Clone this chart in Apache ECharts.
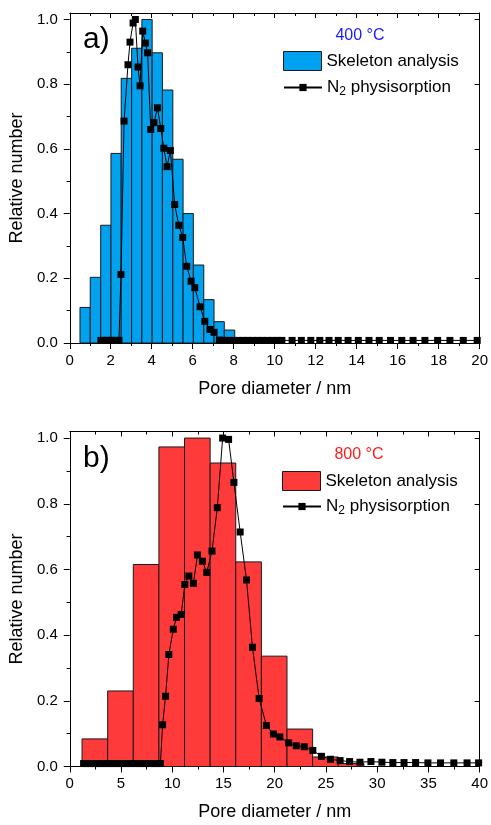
<!DOCTYPE html>
<html>
<head>
<meta charset="utf-8">
<script src="https://cdn.jsdelivr.net/npm/echarts@6/dist/echarts.min.js"></script>
<style>
  html, body { margin: 0; padding: 0; background: #ffffff; }
  #chart { width: 491px; height: 825px; }
</style>
</head>
<body>
<div id="chart"></div>
<script>
// ---- Pore size distributions: skeleton analysis (histogram) vs. N2 physisorption ----

// 400 °C sample: histogram bin edges (nm) and relative counts
const skeletonEdges400 = [0.50, 1.00, 1.51, 2.01, 2.51, 3.02, 3.52, 4.02, 4.52, 5.03, 5.53, 6.03, 6.54, 7.04, 7.54, 8.05];
const skeletonCounts400 = [0.110, 0.203, 0.364, 0.586, 0.818, 0.911, 1.000, 0.897, 0.782, 0.568, 0.400, 0.241, 0.134, 0.066, 0.040];

// 400 °C sample: N2 physisorption pore size distribution
const n2Diameter400 = [
  1.52, 1.63, 1.74, 1.85, 1.96, 2.07, 2.18, 2.29, 2.40,
  2.50, 2.65, 2.84, 2.94, 3.09, 3.20, 3.33, 3.43, 3.56, 3.69, 3.80,
  3.95, 4.11, 4.28, 4.44, 4.59, 4.75, 4.91, 5.12, 5.32, 5.51, 5.71,
  5.92, 6.10, 6.36, 6.59, 6.84, 7.04, 7.30,
  7.55, 7.78, 8.00, 8.22, 8.45, 8.68, 8.92, 9.16, 9.40, 9.65, 9.90,
  10.12, 10.35, 10.85, 11.30, 11.76, 12.20, 12.65, 13.10, 13.58, 14.08,
  14.60, 15.10, 15.65, 16.20, 16.75, 17.33, 17.95, 18.55, 19.20, 19.88
];
const n2Number400 = [
  0.008, 0.008, 0.008, 0.008, 0.008, 0.008, 0.008, 0.008, 0.008,
  0.212, 0.686, 0.860, 0.930, 0.989, 1.000, 0.853, 0.795, 0.964, 0.927, 0.897,
  0.660, 0.681, 0.727, 0.663, 0.602, 0.545, 0.595, 0.428, 0.364, 0.326, 0.237,
  0.191, 0.171, 0.112, 0.067, 0.042, 0.033, 0.009,
  0.008, 0.008, 0.008, 0.008, 0.008, 0.008, 0.008, 0.008, 0.008, 0.008, 0.008,
  0.008, 0.008, 0.008, 0.008, 0.008, 0.008, 0.008, 0.008, 0.008, 0.008,
  0.008, 0.008, 0.008, 0.008, 0.008, 0.008, 0.008, 0.008, 0.008, 0.008
];

// 800 °C sample: histogram bin edges (nm) and relative counts
const skeletonEdges800 = [1.2, 3.7, 6.2, 8.7, 11.2, 13.7, 16.2, 18.7, 21.2, 23.7, 26.2, 28.7];
const skeletonCounts800 = [0.084, 0.230, 0.615, 0.973, 1.000, 0.924, 0.623, 0.336, 0.114, 0.029, 0.009];

// 800 °C sample: N2 physisorption pore size distribution
const n2Diameter800 = [
  1.35, 1.60, 1.85, 2.10, 2.40, 2.70, 3.00, 3.30, 3.60, 3.95, 4.30, 4.65,
  5.00, 5.35, 5.70, 6.05, 6.40, 6.75, 7.10, 7.45, 7.80, 8.15, 8.50, 8.85,
  9.06, 9.35, 9.67, 10.10, 10.42, 10.87, 11.23, 11.62, 12.07, 12.46, 12.94,
  13.37, 13.88, 14.40, 14.92, 15.50, 16.02, 16.63, 17.25, 17.83, 18.48,
  19.19, 19.87, 20.50, 21.36, 22.10, 22.88, 23.72, 24.56, 25.44, 26.38,
  27.31, 28.32, 29.39, 30.46, 31.53, 32.62, 33.75, 34.95, 36.18, 37.48, 38.77, 39.90
];
const n2Number800 = [
  0.009, 0.009, 0.009, 0.009, 0.009, 0.009, 0.009, 0.009, 0.009, 0.009, 0.009, 0.009,
  0.009, 0.009, 0.009, 0.009, 0.009, 0.009, 0.009, 0.009, 0.009, 0.009, 0.009, 0.009,
  0.127, 0.214, 0.341, 0.418, 0.454, 0.463, 0.554, 0.580, 0.558, 0.644, 0.625,
  0.591, 0.656, 0.788, 1.000, 0.996, 0.865, 0.714, 0.568, 0.363, 0.207,
  0.125, 0.099, 0.090, 0.072, 0.063, 0.060, 0.049, 0.031, 0.022, 0.018,
  0.015, 0.013, 0.015, 0.013, 0.012, 0.012, 0.012, 0.011, 0.011, 0.011, 0.011, 0.011
];

// Axis tick values
const yMajorTicks = [0, 0.2, 0.4, 0.6, 0.8, 1.0];
const yMinorTicks = [0.1, 0.3, 0.5, 0.7, 0.9];

const FONT = "'Liberation Sans', Arial, Helvetica, sans-serif";
const BLUE = '#00A2F0';
const RED = '#FF3A3A';
const EDGE = '#1a1a1a';

function binData(edges, counts) {
  return counts.map((c, i) => [edges[i], edges[i + 1], c]);
}
function pairs(xs, ys) {
  return xs.map((x, i) => [x, ys[i]]);
}

function histogramRenderer(fill) {
  return function (params, api) {
    const topLeft = api.coord([api.value(0), api.value(2)]);
    const bottomRight = api.coord([api.value(1), 0]);
    return {
      type: 'rect',
      shape: {
        x: topLeft[0],
        y: topLeft[1],
        width: bottomRight[0] - topLeft[0],
        height: bottomRight[1] - topLeft[1]
      },
      style: { fill: fill, stroke: EDGE, lineWidth: 1 }
    };
  };
}

const axisLine = { show: true, onZero: false, lineStyle: { color: '#000', width: 1 } };
const labelStyle = { color: '#000', fontSize: 15, fontFamily: FONT };
const nameStyle = { color: '#000', fontSize: 18, fontFamily: FONT };

function xAxesFor(gridIndex, max, interval) {
  return [
    {
      type: 'value', gridIndex, position: 'bottom', min: 0, max, interval,
      axisLine, splitLine: { show: false },
      axisTick: { show: true, inside: false, length: 6, lineStyle: { color: '#000' } },
      minorTick: { show: true, splitNumber: 2, length: 3, lineStyle: { color: '#000' } },
      axisLabel: Object.assign({ margin: 10 }, labelStyle),
      name: 'Pore diameter / nm', nameLocation: 'middle', nameGap: 37,
      nameTextStyle: nameStyle
    },
    {
      type: 'value', gridIndex, position: 'top', min: 0, max, interval,
      axisLine, splitLine: { show: false },
      axisTick: { show: true, inside: true, length: 5, lineStyle: { color: '#000' } },
      minorTick: { show: true, splitNumber: 2, length: 3, lineStyle: { color: '#000' } },
      axisLabel: { show: false }
    }
  ];
}

function yAxesFor(gridIndex) {
  const base = { type: 'value', gridIndex, min: 0, max: 1.02, splitLine: { show: false } };
  return [
    Object.assign({}, base, {
      position: 'left', axisLine,
      axisTick: { show: true, inside: false, length: 6, customValues: yMajorTicks, lineStyle: { color: '#000' } },
      axisLabel: Object.assign({ margin: 12, customValues: yMajorTicks, formatter: v => v.toFixed(1) }, labelStyle),
      name: 'Relative number', nameLocation: 'middle', nameGap: 39, nameTextStyle: nameStyle
    }),
    Object.assign({}, base, {
      position: 'left', axisLine: { show: false },
      axisTick: { show: true, inside: false, length: 3, customValues: yMinorTicks, lineStyle: { color: '#000' } },
      axisLabel: { show: false }
    }),
    Object.assign({}, base, {
      position: 'right', axisLine,
      axisTick: { show: true, inside: true, length: 5, customValues: yMajorTicks, lineStyle: { color: '#000' } },
      axisLabel: { show: false }
    }),
    Object.assign({}, base, {
      position: 'right', axisLine: { show: false },
      axisTick: { show: true, inside: true, length: 3, customValues: yMinorTicks, lineStyle: { color: '#000' } },
      axisLabel: { show: false }
    })
  ];
}

const legendText = { color: '#000', fontSize: 17, fontFamily: FONT };
const n2Rich = {
  n: { color: '#000', fontSize: 17, lineHeight: 20, fontFamily: FONT },
  s: { color: '#000', fontSize: 12, lineHeight: 10, verticalAlign: 'bottom', fontFamily: FONT }
};

function legendsFor(fill, left, rectTop, lineTop) {
  return [
    {
      left, top: rectTop, padding: 0, itemWidth: 38, itemHeight: 19, selectedMode: false,
      data: [{ name: 'Skeleton analysis', icon: 'rect', itemStyle: { color: fill, borderColor: EDGE, borderWidth: 1 } }],
      textStyle: legendText
    },
    {
      left, top: lineTop, padding: 0, itemWidth: 38, itemHeight: 9, selectedMode: false,
      data: ['N2 physisorption'],
      formatter: () => '{n|N}{s|2}{n| physisorption}',
      textStyle: { color: '#000', fontSize: 17, fontFamily: FONT, rich: n2Rich }
    }
  ];
}

const chart = echarts.init(document.getElementById('chart'), null, { renderer: 'canvas' });

chart.setOption({
  animation: false,
  backgroundColor: '#ffffff',
  grid: [
    { left: 69, right: 11, top: 13, height: 330 },
    { left: 69, right: 11, top: 431.5, height: 335 }
  ],
  xAxis: [].concat(xAxesFor(0, 20, 2), xAxesFor(1, 40, 5)),
  yAxis: [].concat(yAxesFor(0), yAxesFor(1)),
  legend: [].concat(legendsFor(BLUE, 283, 51, 79), legendsFor(RED, 282, 471, 498)),
  graphic: [
    { type: 'text', x: 83, y: 40, style: { text: 'a)', fontSize: 30, fontFamily: FONT, fill: '#000', textVerticalAlign: 'middle' } },
    { type: 'text', x: 360, y: 36, style: { text: '400 °C', fontSize: 16, fontFamily: FONT, fill: '#1a1aff', textAlign: 'center', textVerticalAlign: 'middle' } },
    { type: 'text', x: 83, y: 459, style: { text: 'b)', fontSize: 30, fontFamily: FONT, fill: '#000', textVerticalAlign: 'middle' } },
    { type: 'text', x: 359, y: 455, style: { text: '800 °C', fontSize: 16, fontFamily: FONT, fill: '#ff1a1a', textAlign: 'center', textVerticalAlign: 'middle' } }
  ],
  series: [
    {
      name: 'Skeleton analysis', type: 'custom', xAxisIndex: 0, yAxisIndex: 0,
      renderItem: histogramRenderer(BLUE), itemStyle: { color: BLUE },
      encode: { x: [0, 1], y: 2 },
      data: binData(skeletonEdges400, skeletonCounts400), z: 2
    },
    {
      name: 'N2 physisorption', type: 'line', xAxisIndex: 0, yAxisIndex: 0,
      data: pairs(n2Diameter400, n2Number400),
      symbol: 'rect', symbolSize: 7, showAllSymbol: true,
      lineStyle: { color: '#000', width: 1 }, itemStyle: { color: '#000' }, z: 3
    },
    {
      name: 'Skeleton analysis', type: 'custom', xAxisIndex: 2, yAxisIndex: 4,
      renderItem: histogramRenderer(RED), itemStyle: { color: RED },
      encode: { x: [0, 1], y: 2 },
      data: binData(skeletonEdges800, skeletonCounts800), z: 2
    },
    {
      name: 'N2 physisorption', type: 'line', xAxisIndex: 2, yAxisIndex: 4,
      data: pairs(n2Diameter800, n2Number800),
      symbol: 'rect', symbolSize: 7, showAllSymbol: true,
      lineStyle: { color: '#000', width: 1 }, itemStyle: { color: '#000' }, z: 3
    }
  ]
});
</script>
</body>
</html>
